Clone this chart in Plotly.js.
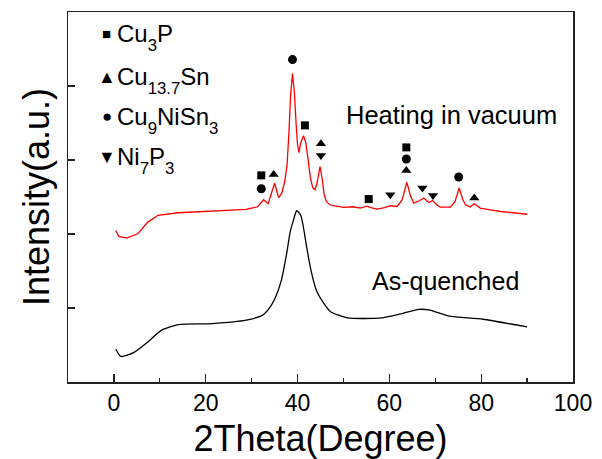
<!DOCTYPE html>
<html>
<head>
<meta charset="utf-8">
<script src="https://cdn.plot.ly/plotly-3.0.1.min.js"></script>
<style>html,body{margin:0;padding:0;background:#fff;}</style>
</head>
<body>
<div id="chart" style="width:602px;height:459px;"></div>
<script>
// As-quenched (black) pattern
const quenchedX = [0.4, 1.5, 4.4, 7.4, 10.3, 14, 21.4, 28.8, 32.4, 33.9, 35.4, 36.5, 37.6, 38.4, 39.1, 39.8, 40.7, 41.3, 42, 43, 44.2, 45.5, 47.2, 50.9, 58.3, 62, 66.4, 68.6, 73, 80.4, 90];
const quenchedY = [0.447, 0.345, 0.401, 0.541, 0.698, 0.775, 0.789, 0.835, 0.904, 1.001, 1.177, 1.380, 1.727, 2.03, 2.184, 2.314, 2.253, 2.084, 1.819, 1.488, 1.223, 1.083, 0.950, 0.866, 0.866, 0.913, 0.981, 0.974, 0.890, 0.848, 0.744];

// Heating in vacuum (red) pattern
const heatedX = [0.4, 1.1, 2.9, 5.2, 7.4, 9.6, 14, 21.4, 28.8, 31.3, 32.6, 33.6, 35.0, 35.9, 36.6, 37.2, 37.7, 38.1, 38.5, 38.9, 39.3, 39.7, 40.0, 40.3, 40.7, 41.3, 41.8, 42.3, 42.8, 43.3, 43.8, 44.3, 44.9, 45.4, 45.8, 46.3, 47.0, 47.8, 50, 52, 53.7, 55.1, 56, 57.3, 59, 60.2, 61.7, 62.8, 63.8, 64.6, 65.3, 66.5, 67.5, 68.6, 69.4, 70.3, 71.1, 73.3, 74.3, 75.2, 76.0, 76.6, 77.6, 78.5, 79.8, 82, 84.2, 87, 90];
const heatedY = [2.047, 1.965, 1.949, 2.003, 2.161, 2.253, 2.287, 2.314, 2.332, 2.368, 2.463, 2.409, 2.686, 2.490, 2.558, 2.706, 2.923, 3.342, 3.884, 4.168, 3.924, 3.478, 3.207, 3.099, 3.234, 3.329, 3.234, 3.004, 2.761, 2.625, 2.598, 2.706, 2.909, 2.733, 2.530, 2.436, 2.395, 2.382, 2.361, 2.368, 2.350, 2.375, 2.355, 2.337, 2.355, 2.382, 2.372, 2.463, 2.697, 2.517, 2.418, 2.449, 2.486, 2.426, 2.453, 2.395, 2.364, 2.364, 2.436, 2.621, 2.463, 2.395, 2.364, 2.409, 2.350, 2.327, 2.304, 2.287, 2.267];

// Phase peak markers
const cu3pX = [32.1, 41.6, 55.5, 63.7];
const cu3pY = [2.792, 3.468, 2.472, 3.170];
const cu137snX = [34.8, 45.1, 63.7, 78.5];
const cu137snY = [2.805, 3.221, 2.859, 2.486];
const cu9nisn3X = [38.9, 32.1, 63.7, 75.1];
const cu9nisn3Y = [4.357, 2.612, 3.014, 2.770];
const ni7p3X = [45.1, 60.2, 67.2, 69.5];
const ni7p3Y = [3.062, 2.530, 2.621, 2.521];

const xTickVals = [0, 20, 40, 60, 80, 100];
const xTickText = ['0', '20', '40', '60', '80', '100'];

function sub(s) { return '<sub><span style="baseline-shift:-4px">' + s + '</span></sub>'; }
const phaseNames = ['Cu' + sub('3') + 'P', 'Cu' + sub('13.7') + 'Sn', 'Cu' + sub('9') + 'NiSn' + sub('3'), 'Ni' + sub('7') + 'P' + sub('3')];
const phaseGlyphs = ['\u25A0', '\u25B2', '\u25CF', '\u25BC'];

const FONT = 'Liberation Sans, Arial, sans-serif';

const traces = [
  {x: quenchedX, y: quenchedY, mode: 'lines', line: {color: '#000000', width: 1.3, shape: 'spline', smoothing: 0.6}, showlegend: false},
  {x: heatedX, y: heatedY, mode: 'lines', line: {color: '#ff0000', width: 1.3}, showlegend: false},
  {x: cu3pX, y: cu3pY, mode: 'markers', marker: {symbol: 'square', size: 8, color: '#000'}, showlegend: false},
  {x: cu137snX, y: cu137snY, mode: 'markers', marker: {symbol: 'triangle-up', size: 9, color: '#000'}, showlegend: false},
  {x: cu9nisn3X, y: cu9nisn3Y, mode: 'markers', marker: {symbol: 'circle', size: 9, color: '#000'}, showlegend: false},
  {x: ni7p3X, y: ni7p3Y, mode: 'markers', marker: {symbol: 'triangle-down', size: 9, color: '#000'}, showlegend: false}
];

const legendRowY = [4.709, 4.127, 3.586, 3.045];
const glyphSizes = [15, 18, 17, 18];
const annotations = [];
for (let i = 0; i < phaseNames.length; i++) {
  annotations.push({x: -1.6, y: legendRowY[i], xref: 'x', yref: 'y', text: phaseGlyphs[i], showarrow: false,
    xanchor: 'center', yanchor: 'middle', font: {family: FONT, size: glyphSizes[i], color: '#000'}});
  annotations.push({x: 0.2, y: legendRowY[i], xref: 'x', yref: 'y', text: phaseNames[i], showarrow: false,
    xanchor: 'left', yanchor: 'middle', yshift: -4, font: {family: FONT, size: 24, color: '#000'}});
}
annotations.push({x: 50.2, y: 3.613, xref: 'x', yref: 'y', text: 'Heating in vacuum', showarrow: false,
  xanchor: 'left', yanchor: 'middle', font: {family: FONT, size: 25.5, color: '#000'}});
annotations.push({x: 55.8, y: 1.367, xref: 'x', yref: 'y', text: 'As-quenched', showarrow: false,
  xanchor: 'left', yanchor: 'middle', font: {family: FONT, size: 25, color: '#000'}});

const layout = {
  width: 602, height: 459,
  margin: {l: 68, r: 29, t: 12, b: 77, pad: 0},
  paper_bgcolor: '#ffffff', plot_bgcolor: '#ffffff',
  font: {family: FONT, color: '#000'},
  showlegend: false,
  xaxis: {
    range: [-10, 100], tickmode: 'array', tickvals: xTickVals, ticktext: xTickText,
    ticks: 'inside', ticklen: 8, tickwidth: 1.3, tickcolor: '#222',
    minor: {tickmode: 'array', tickvals: [10, 30, 50, 70, 90], ticks: 'inside', ticklen: 4, tickwidth: 1.3, tickcolor: '#222', showgrid: false},
    showgrid: false, zeroline: false, showline: true, mirror: true, linecolor: '#222', linewidth: 1.5,
    tickfont: {family: FONT, size: 23, color: '#000'},
    title: {text: '2Theta(Degree)', font: {family: FONT, size: 36, color: '#000'}, standoff: 13},
    automargin: false
  },
  yaxis: {
    range: [0, 5], dtick: 1, tick0: 0,
    ticks: 'inside', ticklen: 7, tickwidth: 1.3, tickcolor: '#222',
    showticklabels: false,
    showgrid: false, zeroline: false, showline: true, mirror: true, linecolor: '#222', linewidth: 1.5,
    title: {text: 'Intensity(a.u.)', font: {family: FONT, size: 36, color: '#000'}, standoff: 6},
    automargin: false
  },
  annotations: annotations
};

Plotly.newPlot('chart', traces, layout, {displayModeBar: false, staticPlot: true});
</script>
</body>
</html>
